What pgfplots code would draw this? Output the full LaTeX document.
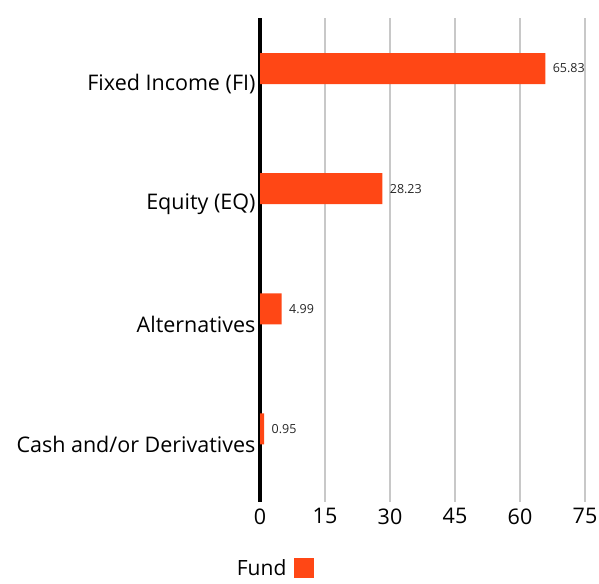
\documentclass[border=0pt]{standalone}
\usepackage{pgfplots}
\pgfplotsset{compat=1.18}
\usepackage{fontspec}
\setmainfont{Open Sans}
\definecolor{fundc}{HTML}{FF4715}
\definecolor{gridc}{HTML}{C8C8C8}
\begin{document}
\begin{tikzpicture}
\path[use as bounding box] (0,0) rectangle (599pt,583pt);
\begin{axis}[
  at={(260pt,81pt)}, anchor=south west,
  scale only axis, width=325pt, height=484pt,
  xmin=0, xmax=75, ymin=-0.48, ymax=3.55,
  xtick={15,30,45,60,75},
  extra x ticks={0},
  extra x tick style={grid style={black, line width=4pt}},
  xmajorgrids, grid style={gridc, line width=2pt},
  ytick={0,1,2,3},
  yticklabels={Cash and/or Derivatives, Alternatives, Equity (EQ), Fixed Income (FI)},
  major tick length=0pt,
  axis line style={draw=none},
  tick label style={font=\fontsize{21.5}{24}\selectfont, text=black},
  /pgf/number format/assume math mode=true,
  yticklabel style={xshift=-1pt},
  xticklabel style={yshift=-3pt},
  xbar, bar width=0.258, bar shift=0.129,
  nodes near coords,
  nodes near coords style={font=\fontsize{12.5}{14}\selectfont, text=black!85, anchor=west, xshift=4pt},
  point meta=explicit symbolic,
  legend style={at={(0.045,-0.136)}, anchor=center, draw=none, fill=none, font=\fontsize{21}{24}\selectfont},
  legend plot pos=right,
  legend image code/.code={\path (0pt,0pt); \fill[fundc] (6pt,-10pt) rectangle (26pt,10pt);},
  clip=false,
]
\addplot[fill=fundc, draw=none] table[x=v, y=p, meta=l] {
p v l
0 0.95 0.95
1 4.99 4.99
2 28.23 28.23
3 65.83 65.83
};
\addlegendentry{Fund}
\end{axis}
\end{tikzpicture}
\end{document}
